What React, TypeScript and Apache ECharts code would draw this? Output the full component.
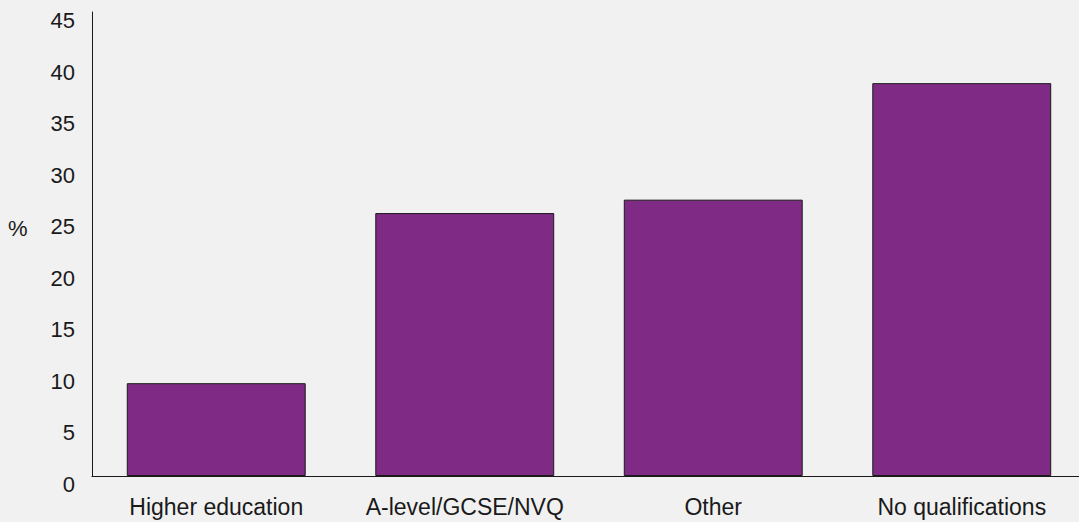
import React, { useEffect, useRef } from "react";
import * as echarts from "echarts";

const categories = ["Higher education", "A-level/GCSE/NVQ", "Other", "No qualifications"];
const values = [9.0, 25.5, 26.8, 38.1];
const yMin = 0;
const yMax = 45;
const yInterval = 5;
const yAxisTitle = "%";

export default function App() {
  const ref = useRef<HTMLDivElement>(null);
  useEffect(() => {
    if (!ref.current) return;
    const chart = echarts.init(ref.current, undefined, { renderer: "svg" });
    const font = "'Liberation Sans', Arial, sans-serif";
    chart.setOption({
      animation: false,
      backgroundColor: "#F1F1F1",
      grid: { left: 92, top: 12, right: 0, bottom: 46, containLabel: false },
      xAxis: {
        type: "category",
        data: categories,
        axisLine: { show: true, lineStyle: { color: "#1a1a1a", width: 1 } },
        axisTick: { show: false },
        axisLabel: { color: "#1a1a1a", fontFamily: font, fontSize: 23, margin: 19, interval: 0 },
        splitLine: { show: false },
      },
      yAxis: {
        type: "value",
        min: yMin,
        max: yMax,
        interval: yInterval,
        axisLine: { show: true, lineStyle: { color: "#1a1a1a", width: 1 } },
        axisTick: { show: false },
        splitLine: { show: false },
        axisLabel: {
          color: "#1a1a1a",
          fontFamily: font,
          fontSize: 22,
          margin: 17,
          verticalAlign: "top",
          lineHeight: 17,
        },
      },
      graphic: [
        {
          type: "text",
          left: 8,
          top: 217,
          style: { text: yAxisTitle, fill: "#1a1a1a", font: `22px ${font}` },
        },
      ],
      series: [
        {
          type: "bar",
          data: values,
          barCategoryGap: "28%",
          itemStyle: { color: "#7F2A84", borderColor: "#1a1a1a", borderWidth: 1 },
        },
      ],
    });
    return () => chart.dispose();
  }, []);
  return (
    <div
      style={{
        position: "absolute",
        left: 0,
        top: 0,
        width: 1079,
        height: 522,
        overflow: "hidden",
        background: "#F1F1F1",
      }}
    >
      <div ref={ref} style={{ width: 1086, height: 522 }} />
    </div>
  );
}
